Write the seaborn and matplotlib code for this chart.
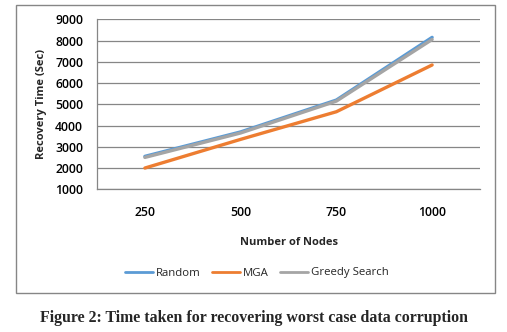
import matplotlib
matplotlib.use("Agg")
import matplotlib.pyplot as plt
from matplotlib.patches import Rectangle
import seaborn as sns
import pandas as pd

nodes = ["250", "500", "750", "1000"]
random_vals = [2550, 3700, 5200, 8150]
mga_vals = [2000, 3350, 4650, 6850]
greedy_vals = [2500, 3650, 5150, 8050]
series_names = ["Random", "MGA", "Greedy Search"]
colors = ["#5B9BD5", "#ED7D31", "#A5A5A5"]
y_ticks = [1000, 2000, 3000, 4000, 5000, 6000, 7000, 8000, 9000]

df = pd.DataFrame({
    "Nodes": nodes * 3,
    "Time": random_vals + mga_vals + greedy_vals,
    "Series": [series_names[0]] * 4 + [series_names[1]] * 4 + [series_names[2]] * 4,
})

sns.set_theme(style="white")
plt.rcParams['font.family'] = ['Open Sans', 'DejaVu Sans']

fig = plt.figure(figsize=(5.07, 3.32), dpi=100)
ax = fig.add_axes([97/507, 1-189.3/332, (480-97)/507, (189.3-19.3)/332])

sns.lineplot(data=df, x="Nodes", y="Time", hue="Series", palette=colors,
             linewidth=2.4, ax=ax, legend=False, sort=False)

ax.set_xlim(-0.5, 3.5)
ax.set_ylim(1000, 9000)
ax.set_yticks(y_ticks)
ax.yaxis.grid(True, color="#868686", linewidth=0.9)
ax.set_axisbelow(True)
for s in ["top", "right"]:
    ax.spines[s].set_visible(False)
for s in ["left", "bottom"]:
    ax.spines[s].set_color("#868686")
    ax.spines[s].set_linewidth(0.9)
ax.tick_params(axis="both", length=0, labelsize=8.8, colors="black")
for lbl in ax.get_xticklabels() + ax.get_yticklabels():
    lbl.set_fontweight("semibold")
ax.tick_params(axis="x", pad=12)
ax.tick_params(axis="y", pad=10)
ax.set_xlabel("Number of Nodes", fontsize=8, fontweight="bold", labelpad=13)
ax.set_ylabel("Recovery Time (Sec)", fontsize=8, fontweight="bold", labelpad=6)

handles = [plt.Line2D([0], [0], color=c, lw=2) for c in colors]
fig.legend(handles, series_names, loc="center", bbox_to_anchor=(257/507, 1-273/332),
           ncol=3, frameon=False, fontsize=8.2, handlelength=2.4, columnspacing=1.0,
           handletextpad=0.3)

fig.patches.append(Rectangle((15.5/507, 1-292.7/332), (495-15.5)/507, (292.7-5.3)/332,
                             transform=fig.transFigure, fill=False,
                             edgecolor="#868686", linewidth=1))

fig.text(254.5/507, 1-318/332, "Figure 2: Time taken for recovering worst case data corruption",
         ha="center", va="center", fontsize=11.4, fontweight="bold",
         family=["Liberation Serif", "DejaVu Serif"])

fig.savefig("out.png", dpi=100)
